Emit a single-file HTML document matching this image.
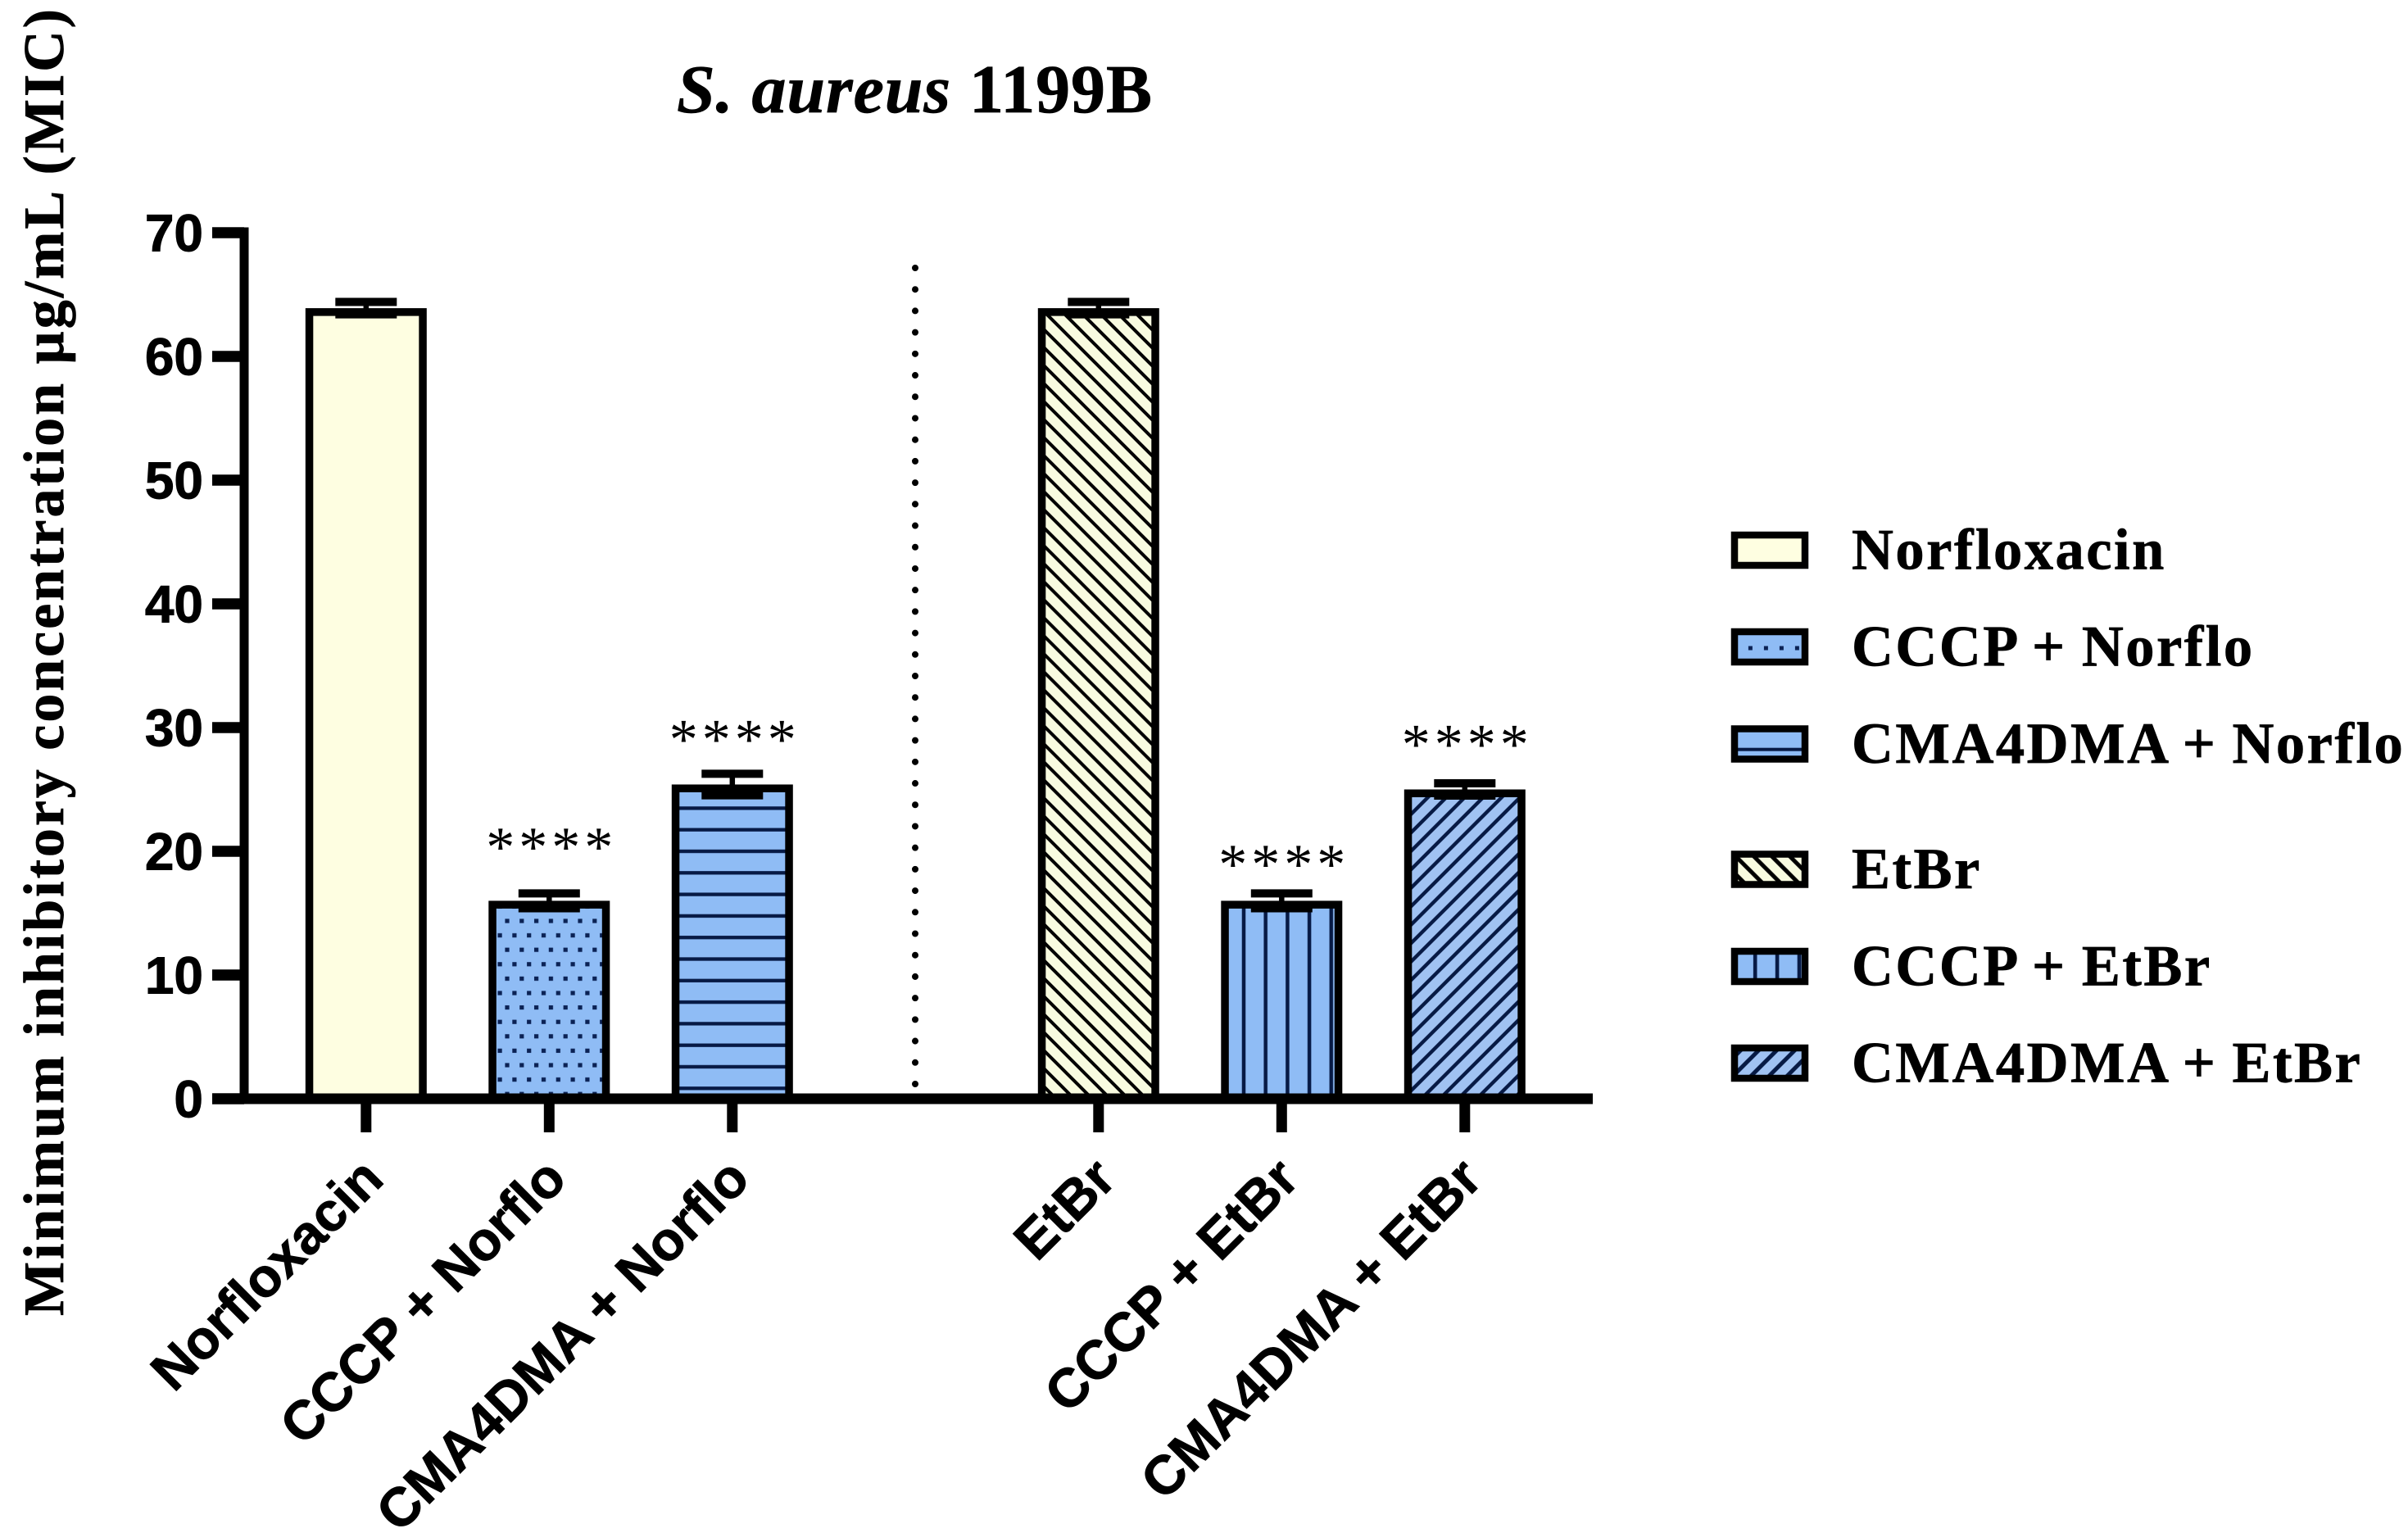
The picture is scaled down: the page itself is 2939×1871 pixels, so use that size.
<!DOCTYPE html>
<html lang="en">
<head>
<meta charset="utf-8">
<title>S. aureus 1199B minimum inhibitory concentration</title>
<style>
html,body{margin:0;padding:0;background:#fff;}
body{width:2939px;height:1871px;overflow:hidden;}
svg{display:block;}
.serif{font-family:"Liberation Serif",serif;font-weight:bold;fill:#000;stroke:#000;stroke-width:0.7px;}
.sans{font-family:"Liberation Sans",sans-serif;font-weight:bold;fill:#000;stroke:#000;stroke-width:0.9px;}
</style>
</head>
<body>
<svg id="chart" xmlns="http://www.w3.org/2000/svg" width="2939" height="1871" viewBox="0 0 2939 1871">
  <defs>
    <pattern id="p-dots" patternUnits="userSpaceOnUse" x="605" y="1115" width="17.8" height="35.2">
      <rect x="11.4" y="6.4" width="5.2" height="5.2" fill="#0b2255"/>
      <rect x="2.5" y="24" width="5.2" height="5.2" fill="#0b2255"/>
    </pattern>
    <pattern id="p-hlines" patternUnits="userSpaceOnUse" x="0" y="973.25" width="40" height="26.3">
      <rect x="0" y="11" width="40" height="4.3" fill="#071a45"/>
    </pattern>
    <pattern id="p-vlines" patternUnits="userSpaceOnUse" x="1504.65" y="0" width="26.7" height="40">
      <rect x="11.1" y="0" width="4.5" height="40" fill="#071a45"/>
    </pattern>
    <pattern id="p-back" patternUnits="userSpaceOnUse" x="0" y="8" width="22" height="22">
      <path d="M-4 -4L26 26M-26 -4L4 26M18 -4L48 26" stroke="#000" stroke-width="4" fill="none"/>
    </pattern>
    <pattern id="p-fwd" patternUnits="userSpaceOnUse" x="0" y="15.9" width="22.5" height="22.5">
      <path d="M-4 26.5L26.5 -4M-26.5 26.5L4 -4M18.5 26.5L49 -4" stroke="#071a45" stroke-width="4.4" fill="none"/>
    </pattern>
    <pattern id="l-dots" patternUnits="userSpaceOnUse" x="2126.9" y="770" width="19" height="42">
      <rect x="7" y="18.5" width="5" height="5" fill="#0b2255"/>
    </pattern>
    <pattern id="l-hlines" patternUnits="userSpaceOnUse" x="0" y="885" width="40" height="60">
      <rect x="0" y="27.7" width="40" height="4" fill="#071a45"/>
    </pattern>
    <pattern id="l-vlines" patternUnits="userSpaceOnUse" x="2128.9" y="0" width="26.9" height="40">
      <rect x="11" y="0" width="4.6" height="40" fill="#071a45"/>
    </pattern>
    <pattern id="l-back" patternUnits="userSpaceOnUse" x="0" y="4.6" width="22" height="22">
      <path d="M-4 -4L26 26M-26 -4L4 26M18 -4L48 26" stroke="#000" stroke-width="5" fill="none"/>
    </pattern>
    <pattern id="l-fwd" patternUnits="userSpaceOnUse" x="0" y="18.4" width="22" height="22">
      <path d="M-4 26L26 -4M-26 26L4 -4M18 26L48 -4" stroke="#071a45" stroke-width="5" fill="none"/>
    </pattern>
  </defs>

  <text class="serif" x="826" y="137" font-size="84" textLength="580"><tspan font-style="italic">S. aureus</tspan> 1199B</text>
  <text class="serif" transform="translate(77 1606) rotate(-90)" x="0" y="0" font-size="70" textLength="1595">Minimum inhibitory concentration µg/mL (MIC)</text>

  <g id="bars"></g>
  <g id="axes"></g>
  <g id="annotations"></g>
  <g id="legend"></g>
</svg>

<script>
const categories = ["Norfloxacin", "CCCP + Norflo", "CMA4DMA + Norflo", "EtBr", "CCCP + EtBr", "CMA4DMA + EtBr"];
const meanValues = [63.9, 16, 25.4, 63.9, 16, 25];
const errorValues = [0.5, 0.6, 0.87, 0.5, 0.6, 0.5];
const significance = ["", "****", "****", "", "****", "****"];
const significanceGap = [0, 5, 4.3, 0, 3.6, 4.3];
const yTickValues = [0, 10, 20, 30, 40, 50, 60, 70];
const groupBreakAfter = 3;

const barLook = {
  "Norfloxacin": { fill: "#fefee1", overlay: null, legendOverlay: null },
  "CCCP + Norflo": { fill: "#8fbcf5", overlay: "p-dots", legendOverlay: "l-dots" },
  "CMA4DMA + Norflo": { fill: "#8fbcf5", overlay: "p-hlines", legendOverlay: "l-hlines" },
  "EtBr": { fill: "#f8fbe0", overlay: "p-back", legendOverlay: "l-back" },
  "CCCP + EtBr": { fill: "#8fbcf5", overlay: "p-vlines", legendOverlay: "l-vlines" },
  "CMA4DMA + EtBr": { fill: "#a0c2f2", overlay: "p-fwd", legendOverlay: "l-fwd" }
};

const NS = "http://www.w3.org/2000/svg";
const Y_ZERO = 1341;
const Y_PER_UNIT = 15.1;
const X_FIRST = 446.8;
const X_STEP = 223.5;

function yScale(v) { return Y_ZERO - v * Y_PER_UNIT; }
function xScale(i) { return X_FIRST + X_STEP * (i + (i >= groupBreakAfter ? 1 : 0)); }
function slug(s) { return s.toLowerCase().replace(/[^a-z0-9]+/g, "-"); }

function make(tag, attrs, parent) {
  const node = document.createElementNS(NS, tag);
  for (const k in attrs) node.setAttribute(k, attrs[k]);
  parent.appendChild(node);
  return node;
}

const barsG = document.getElementById("bars");
const axesG = document.getElementById("axes");
const annG = document.getElementById("annotations");
const legendG = document.getElementById("legend");

const BAR_OUTER = 148;
const BAR_STROKE = 9.5;

categories.forEach(function (name, i) {
  const cx = xScale(i);
  const look = barLook[name];
  const left = cx - BAR_OUTER / 2 + BAR_STROKE / 2;
  const w = BAR_OUTER - BAR_STROKE;
  const top = yScale(meanValues[i]) + BAR_STROKE / 2;
  const h = Y_ZERO - top;

  const g = make("g", {}, barsG);
  
  

  make("rect", { x: left, y: top, width: w, height: h, fill: look.fill }, g);
  if (look.overlay) {
    make("rect", { x: left, y: top, width: w, height: h, fill: "url(#" + look.overlay + ")" }, g);
  }
  make("rect", { x: left, y: top, width: w, height: h, fill: "none", stroke: "#000", "stroke-width": BAR_STROKE }, g);

  const hi = yScale(meanValues[i] + errorValues[i]);
  const lo = yScale(meanValues[i] - errorValues[i]);
  const err = make("g", {}, barsG);
  
  
  make("line", { x1: cx, x2: cx, y1: hi, y2: lo, stroke: "#000", "stroke-width": 6.5 }, err);
  make("line", { x1: cx - 37.5, x2: cx + 37.5, y1: hi, y2: hi, stroke: "#000", "stroke-width": 10 }, err);
  make("line", { x1: cx - 37.5, x2: cx + 37.5, y1: lo, y2: lo, stroke: "#000", "stroke-width": 10 }, err);

  if (significance[i]) {
    const starY = yScale(meanValues[i] + significanceGap[i]);
    const stars = make("text", { x: cx + 3, y: starY + 33, "text-anchor": "middle", "font-size": 70, "letter-spacing": 5, style: "font-family:'Liberation Serif',serif;font-weight:normal;fill:#000" }, annG);
    stars.textContent = significance[i];
    
    
  }

  const tick = make("line", { x1: cx, x2: cx, y1: Y_ZERO, y2: 1382, stroke: "#000", "stroke-width": 13 }, axesG);
  
  

  const lab = make("text", { class: "sans", "text-anchor": "end", "font-size": 66.5, transform: "translate(" + (cx + 24) + " 1442) rotate(-45)" }, axesG);
  lab.textContent = name;
  
  
});

const yAxisLine = make("line", { x1: 298, x2: 298, y1: yScale(70) - 6.5, y2: Y_ZERO + 6, stroke: "#000", "stroke-width": 11 }, axesG);



const xAxisLine = make("line", { x1: 259, x2: 1944, y1: Y_ZERO, y2: Y_ZERO, stroke: "#000", "stroke-width": 13 }, axesG);



yTickValues.forEach(function (v) {
  const y = yScale(v);
  const t = make("line", { x1: 259, x2: 298, y1: y, y2: y, stroke: "#000", "stroke-width": 13.5 }, axesG);
  
  
  const l = make("text", { class: "sans", x: 248, y: y + 22.5, "text-anchor": "end", "font-size": 64 }, axesG);
  l.textContent = String(v);
  
  
});

const divider = make("line", { x1: 1117, x2: 1117, y1: 327, y2: 1349, stroke: "#000", "stroke-width": 8, "stroke-linecap": "round", "stroke-dasharray": "0.01 26.2" }, axesG);



const legendTops = [649, 767, 885.5, 1038.5, 1157, 1275];
categories.forEach(function (name, i) {
  const look = barLook[name];
  const top = legendTops[i];
  const g = make("g", {}, legendG);
  
  
  make("rect", { x: 2117, y: top + 4, width: 86, height: 37, fill: look.fill }, g);
  if (look.legendOverlay) {
    make("rect", { x: 2117, y: top + 4, width: 86, height: 37, fill: "url(#" + look.legendOverlay + ")" }, g);
  }
  make("rect", { x: 2117, y: top + 4, width: 86, height: 37, fill: "none", stroke: "#000", "stroke-width": 8.5 }, g);
  const t = make("text", { class: "serif", x: 2260, y: top + 45.5, "font-size": 70.5, "letter-spacing": 2.5, "word-spacing": -2 }, g);
  t.textContent = name;
});
</script>
</body>
</html>
